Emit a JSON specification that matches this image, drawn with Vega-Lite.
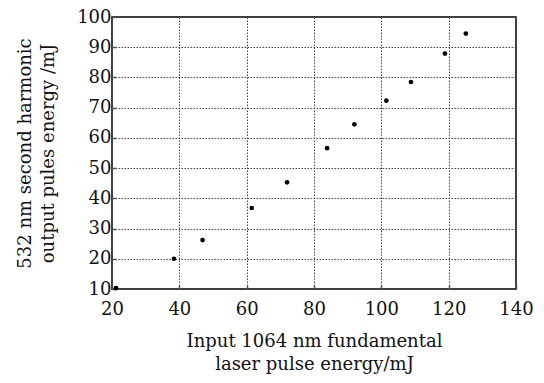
{
  "$schema": "https://vega.github.io/schema/vega-lite/v6.json",
  "autosize": {"type": "none"},
  "padding": {"left": 112, "top": 17, "right": 28, "bottom": 94},
  "width": 404,
  "height": 272,
  "background": "white",
  "config": {
    "view": {"stroke": "black", "strokeWidth": 1.5},
    "font": "DejaVu Serif",
    "axis": {
      "domain": false,
      "grid": true,
      "gridColor": "#444",
      "gridDash": [1.5, 1.5],
      "gridWidth": 1,
      "gridOpacity": 1,
      "tickSize": -4,
      "tickColor": "#555",
      "tickWidth": 1.5,
      "labelFont": "DejaVu Serif",
      "labelFontSize": 18,
      "labelColor": "#111",
      "titleFont": "DejaVu Serif",
      "titleFontSize": 18,
      "titleFontWeight": "normal",
      "titleColor": "#111",
      "titleLineHeight": 23,
      "labelOverlap": false,
      "labelFlush": false
    }
  },
  "data": {
    "values": [
      {"input": 21.2, "output": 10.3},
      {"input": 38.4, "output": 20.0},
      {"input": 46.9, "output": 26.2},
      {"input": 61.5, "output": 36.8},
      {"input": 72.0, "output": 45.3},
      {"input": 83.9, "output": 56.6},
      {"input": 92.0, "output": 64.5},
      {"input": 101.5, "output": 72.3},
      {"input": 108.8, "output": 78.5},
      {"input": 118.9, "output": 87.9},
      {"input": 125.1, "output": 94.5}
    ]
  },
  "mark": {"type": "point", "filled": true, "color": "black", "size": 22, "opacity": 1, "clip": false},
  "encoding": {
    "x": {
      "field": "input",
      "type": "quantitative",
      "scale": {"domain": [20, 140], "nice": false, "zero": false},
      "axis": {
        "values": [20, 40, 60, 80, 100, 120, 140],
        "labelPadding": 15,
        "title": ["Input 1064 nm fundamental", "laser pulse energy/mJ"],
        "titlePadding": 14
      }
    },
    "y": {
      "field": "output",
      "type": "quantitative",
      "scale": {"domain": [10, 100], "nice": false, "zero": false},
      "axis": {
        "values": [10, 20, 30, 40, 50, 60, 70, 80, 90, 100],
        "labelPadding": 5,
        "title": ["532 nm second harmonic", "output pules energy /mJ"],
        "titlePadding": 19
      }
    }
  }
}
